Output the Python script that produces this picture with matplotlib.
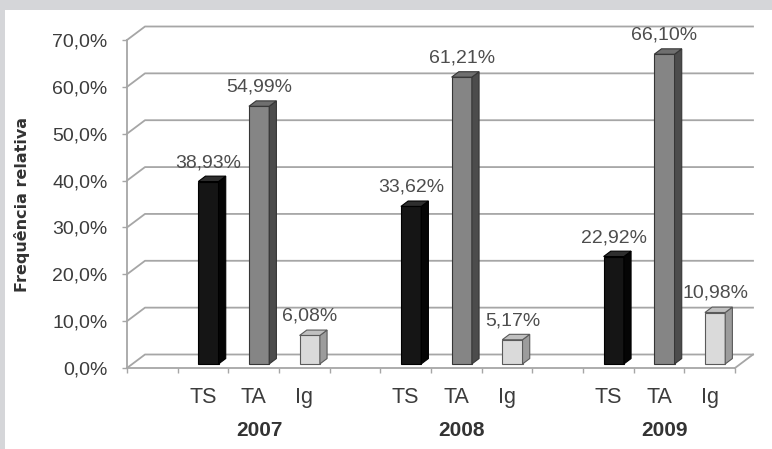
import numpy as np
import matplotlib
matplotlib.use("Agg")
import matplotlib.pyplot as plt
from matplotlib.patches import Polygon, Rectangle
from matplotlib import transforms

plt.rcParams['font.family'] = ['Liberation Sans', 'DejaVu Sans']

# Relative frequencies (%) per year
years = ['2007', '2008', '2009']
series = ['TS', 'TA', 'Ig']
ts_values = [38.93, 33.62, 22.92]
ta_values = [54.99, 61.21, 66.10]
ig_values = [6.08, 5.17, 10.98]
y_ticks = [0, 10, 20, 30, 40, 50, 60, 70]

values = [ts_values, ta_values, ig_values]

# face colours per series: front, side, top, edge
styles = {
    'TS': ('#151515', '#050505', '#2e2e2e', '#000000'),
    'TA': ('#858585', '#4c4c4c', '#6f6f6f', '#363636'),
    'Ig': ('#dadada', '#9c9c9c', '#c0c0c0', '#5a5a5a'),
}

W, H = 772, 449
fig = plt.figure(figsize=(W / 100, H / 100), dpi=100)
fig.patch.set_facecolor('#d5d6d9')
fig.add_artist(Rectangle((5 / W, 0), (W - 5) / W, (H - 10) / H,
                         transform=fig.transFigure, facecolor='white',
                         edgecolor='none', zorder=0))

ax_left, ax_right, ax_zero, ax_top = 127, 735, 368, 40
ax = fig.add_axes([ax_left / W, (H - ax_zero) / H,
                   (ax_right - ax_left) / W, (ax_zero - ax_top) / H])
ax.set_facecolor('none')
n_slots = 12
ax.set_xlim(-0.5, n_slots - 0.5)
ax.set_ylim(0, 70)

# depth of the 3-D box, converted from pixels into data units
depth_px = (18, 13.5)
ddx = depth_px[0] / ((ax_right - ax_left) / n_slots)
ddy = depth_px[1] / ((ax_zero - ax_top) / 70)
front, back = 0.3, 0.7
bar_w = 0.4

grid_c = '#a6a6a6'
# back wall and left wall gridlines
for v in y_ticks:
    ax.plot([-0.5, -0.5 + ddx, n_slots - 0.5 + ddx], [v, v + ddy, v + ddy],
            color=grid_c, lw=1.3, clip_on=False, zorder=1)
# right edge of the floor
ax.plot([n_slots - 0.5, n_slots - 0.5 + ddx], [0, ddy], color=grid_c,
        lw=1.3, clip_on=False, zorder=1)

for sp in ['top', 'right']:
    ax.spines[sp].set_visible(False)
for sp in ['left', 'bottom']:
    ax.spines[sp].set_color(grid_c)
    ax.spines[sp].set_linewidth(1.3)

ax.set_yticks(y_ticks)
ax.set_yticklabels([f"{v:.1f}".replace('.', ',') + '%' for v in y_ticks])
ax.tick_params(axis='y', length=3.6, width=1, color=grid_c, pad=10.5,
               labelsize=14, labelcolor='#3c3c3c')

# category positions: one blank slot before each year group
positions = []
labels = []
for g in range(len(years)):
    for s in range(len(series)):
        positions.append(g * 4 + 1 + s)
        labels.append(series[s])
ax.set_xticks(positions)
ax.set_xticklabels(labels)
ax.set_xticks(np.arange(-0.5, n_slots, 1), minor=True)
ax.tick_params(axis='x', which='major', length=0, pad=14, labelsize=15.5,
               labelcolor='#3c3c3c')
ax.tick_params(axis='x', which='minor', length=3.6, width=1, color=grid_c)

z = 3
for g in range(len(years)):
    for s, name in enumerate(series):
        x = g * 4 + 1 + s
        v = values[s][g]
        fc, sc, tc, ec = styles[name]
        xf = x + front * ddx
        ax.bar(xf, v, width=bar_w, bottom=front * ddy, color=fc,
               edgecolor=ec, linewidth=0.8, zorder=z, clip_on=False)
        xr = xf + bar_w / 2
        xl = xf - bar_w / 2
        sx = (back - front) * ddx
        sy = (back - front) * ddy
        y0 = front * ddy
        y1 = v + front * ddy
        side = Polygon([(xr, y0), (xr, y1), (xr + sx, y1 + sy), (xr + sx, y0 + sy)],
                       closed=True, facecolor=sc, edgecolor=ec, lw=0.8,
                       zorder=z, clip_on=False)
        top = Polygon([(xl, y1), (xr, y1), (xr + sx, y1 + sy), (xl + sx, y1 + sy)],
                      closed=True, facecolor=tc, edgecolor=ec, lw=0.8,
                      zorder=z, clip_on=False)
        ax.add_patch(side)
        ax.add_patch(top)
        ax.annotate(f"{v:.2f}".replace('.', ',') + '%', xy=(xf, y1),
                    xytext=(0, 13.7), textcoords='offset points',
                    ha='center', va='center', fontsize=14, color='#4d4d4d',
                    zorder=2, annotation_clip=False)
        z += 1

# year labels under each group
yr_trans = transforms.blended_transform_factory(ax.transData, fig.transFigure)
for g, yr in enumerate(years):
    ax.text(g * 4 + 2 + front * ddx, 1 - 430 / H, yr, transform=yr_trans,
            ha='center', va='center', fontsize=15, fontweight='bold',
            color='#333333')

fig.text(22 / W, 1 - 205 / H, 'Frequência relativa', rotation=90,
         ha='center', va='center', fontsize=11.5, fontweight='bold',
         family=['DejaVu Sans'], color='#333333')

fig.savefig('out.png', dpi=100)
